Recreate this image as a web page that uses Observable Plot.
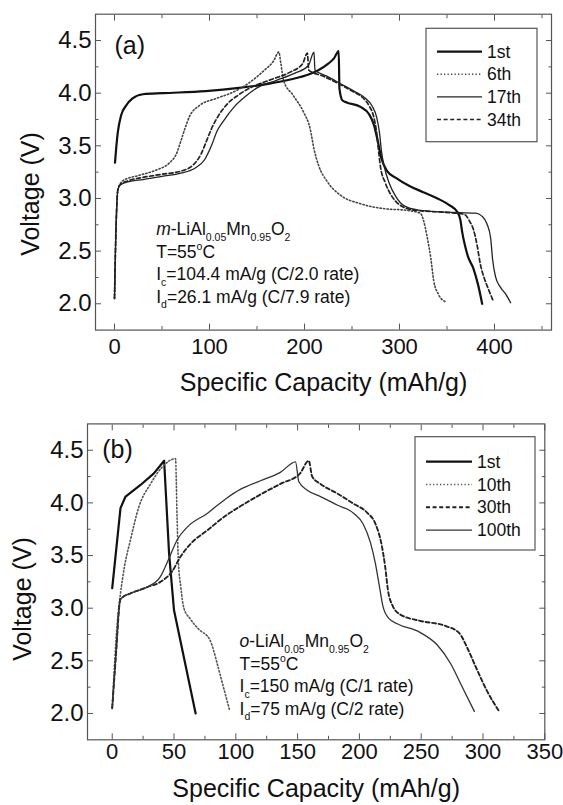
<!DOCTYPE html>
<html><head><meta charset="utf-8">
<script src="https://cdn.jsdelivr.net/npm/d3@7"></script>
<script src="https://cdn.jsdelivr.net/npm/@observablehq/plot@0.6"></script>
<style>body{margin:0;background:#fff;} #chart svg{display:block}</style>
</head><body><div id="chart"></div>
<script>
// ---------- Panel (a) data ----------
const namesA = ["1st", "6th", "17th", "34th"];
const a1st = [[0.5,3.34],[2,3.5],[3.5,3.63],[7,3.79],[12,3.88],[19,3.95],[30,3.99],[51,4.00],[96,4.02],[131,4.05],[163,4.09],[185,4.13],[205,4.18],[215,4.22],[225,4.28],[231,4.33],[236,4.40],[236.8,4.04],[240,3.93],[245,3.91],[259,3.87],[268,3.80],[273,3.70],[277,3.55],[281,3.38],[287,3.26],[297,3.19],[310,3.12],[325,3.06],[340,3.00],[352,2.94],[361,2.87],[364,2.80],[366,2.68],[369,2.55],[372,2.45],[378,2.33],[383,2.17],[387,2.00]];
const a6th = [[0,2.05],[1,2.5],[2.5,2.95],[3.5,3.08],[6,3.14],[9,3.17],[26,3.22],[44,3.27],[58,3.34],[65,3.42],[70,3.55],[74,3.66],[79,3.78],[89,3.88],[107,3.95],[125,4.01],[142,4.10],[158,4.22],[167,4.30],[173,4.39],[175,4.29],[178,4.12],[188,3.98],[199,3.82],[206,3.66],[210,3.47],[215,3.31],[224,3.16],[238,3.03],[259,2.95],[287,2.90],[305,2.89],[322,2.86],[325,2.80],[329,2.64],[333,2.43],[336,2.22],[341,2.09],[348,2.02]];
const a17th = [[0,2.05],[1,2.5],[2.5,2.95],[3.5,3.08],[6,3.13],[15,3.16],[30,3.18],[50,3.21],[70,3.24],[85,3.29],[95,3.37],[102,3.50],[108,3.64],[115,3.74],[126,3.87],[138,3.97],[150,4.05],[170,4.12],[190,4.19],[204,4.26],[210,4.39],[211,4.22],[224,4.16],[238,4.09],[252,4.02],[263,3.96],[271,3.88],[276,3.77],[279,3.62],[281,3.45],[284,3.30],[289,3.15],[296,3.02],[305,2.93],[320,2.89],[350,2.87],[380,2.86],[387,2.83],[392,2.76],[396,2.62],[398,2.42],[401,2.26],[406,2.16],[412,2.09],[417,2.01]];
const a34th = [[0,2.05],[1,2.5],[2.5,2.95],[3.5,3.08],[6,3.13],[15,3.17],[30,3.20],[50,3.23],[70,3.26],[83,3.32],[91,3.42],[97,3.55],[102,3.66],[109,3.78],[119,3.90],[130,3.98],[145,4.06],[165,4.13],[185,4.20],[198,4.28],[203,4.38],[204.5,4.22],[220,4.16],[236,4.09],[250,4.02],[261,3.96],[268,3.88],[273,3.77],[276,3.62],[278,3.45],[280,3.30],[285,3.15],[292,3.02],[300,2.94],[315,2.89],[345,2.87],[368,2.85],[374,2.78],[378,2.70],[382,2.54],[385,2.38],[389,2.25],[394,2.13],[399,2.02]];
const xTicksA = [0, 100, 200, 300, 400];
const xMinorA = [50, 150, 250, 350, 450];
const notesA = ["*m*-LiAl_{0.05}Mn_{0.95}O_{2}", "T=55^{o}C", "I_{c}=104.4 mA/g (C/2.0 rate)", "I_{d}=26.1 mA/g (C/7.9 rate)"];

// ---------- Panel (b) data ----------
const namesB = ["1st", "10th", "30th", "100th"];
const b1st = [[0,3.19],[6.7,3.95],[10.8,4.06],[22.9,4.17],[33.7,4.28],[42,4.40],[46,3.52],[50,2.98],[67.5,2.0]];
const b10th = [[0,2.05],[4,2.85],[6.7,3.14],[10,3.40],[14.8,3.65],[21.5,3.96],[31,4.18],[40.4,4.34],[51.2,4.42],[52.5,3.85],[53.5,3.45],[55.5,3.2],[58,3.0],[63,2.9],[70,2.8],[79,2.70],[82,2.6],[85,2.47],[90,2.25],[95,2.03]];
const b30th = [[0,2.05],[3,2.55],[6.5,3.08],[8,3.1],[14.8,3.14],[28.3,3.20],[39,3.25],[48.5,3.35],[55.3,3.49],[63.3,3.61],[77,3.74],[92,3.88],[104,3.97],[120,4.08],[136,4.18],[152,4.28],[159,4.40],[161.8,4.25],[168.5,4.18],[182,4.09],[195.5,3.99],[206,3.91],[213,3.80],[218,3.60],[221,3.38],[223,3.18],[227,3.02],[233,2.94],[249,2.88],[270,2.83],[281,2.76],[287,2.63],[295,2.42],[303,2.22],[313,2.02]];
const b100th = [[0,2.05],[3,2.55],[6.5,3.08],[8,3.1],[14.8,3.14],[28.3,3.20],[39,3.30],[45.8,3.47],[52.6,3.65],[60.7,3.77],[76.9,3.90],[92,4.04],[104,4.13],[120,4.21],[136,4.29],[148.3,4.39],[151,4.20],[157.8,4.12],[168.5,4.06],[182,3.98],[195.5,3.90],[203,3.80],[209,3.62],[213,3.42],[216,3.22],[219,3.02],[224,2.90],[231,2.85],[249,2.77],[263,2.65],[274,2.47],[282,2.28],[293,2.02]];
const xTicksB = [0, 50, 100, 150, 200, 250, 300, 350];
const xMinorB = [25, 75, 125, 175, 225, 275, 325];
const notesB = ["*o*-LiAl_{0.05}Mn_{0.95}O_{2}", "T=55^{o}C", "I_{c}=150 mA/g (C/1 rate)", "I_{d}=75 mA/g (C/2 rate)"];

const yTicks = [2.0, 2.5, 3.0, 3.5, 4.0, 4.5];
const yMinor = [2.25, 2.75, 3.25, 3.75, 4.25];
const xTitle = "Specific Capacity (mAh/g)";
const yTitle = "Voltage (V)";

// ---------- styles ----------
const stylesA = [
  {stroke: "#111", strokeWidth: 2.2},
  {stroke: "#444", strokeWidth: 1.6, strokeDasharray: "1.3 2.2"},
  {stroke: "#222", strokeWidth: 1.3},
  {stroke: "#222", strokeWidth: 1.7, strokeDasharray: "4 2.6"}
];
const stylesB = [
  {stroke: "#111", strokeWidth: 2.2},
  {stroke: "#555", strokeWidth: 1.6, strokeDasharray: "1.3 2.2"},
  {stroke: "#222", strokeWidth: 1.9, strokeDasharray: "4 2.6"},
  {stroke: "#333", strokeWidth: 1.3}
];

function richify(svg, fs) {
  svg.querySelectorAll("text").forEach(t => {
    const s = t.textContent;
    if (!/_\{|\^\{|\*/.test(s)) return;
    const parts = s.split(/(_\{[^}]*\}|\^\{[^}]*\}|\*[^*]+\*)/).filter(p => p);
    t.textContent = "";
    let shift = 0;
    parts.forEach(p => {
      const ts = document.createElementNS("http://www.w3.org/2000/svg", "tspan");
      let target = 0, txt = p, small = false, ital = false;
      if (p.startsWith("_{")) { target = 0.32 * fs; txt = p.slice(2, -1); small = true; }
      else if (p.startsWith("^{")) { target = -0.42 * fs; txt = p.slice(2, -1); small = true; }
      else if (p.startsWith("*")) { txt = p.slice(1, -1); ital = true; }
      ts.setAttribute("dy", target - shift); shift = target;
      if (small) ts.setAttribute("font-size", 0.6 * fs);
      if (ital) ts.setAttribute("font-style", "italic");
      ts.textContent = txt;
      t.appendChild(ts);
    });
  });
}

function panel(c) {
  const lines = c.series.map((d, i) => Plot.line(d, {x: p => p[0], y: p => p[1], curve: c.curves[i], ...c.styles[i]}));
  const notes = c.notes.map((t, i) => Plot.text([t], {frameAnchor: "top-left", textAnchor: "start", lineAnchor: "middle", dx: c.noteDx, dy: c.noteDy + i * 22.5, fontSize: 17.5, fill: "#111"}));
  const tickStroke = "#555";
  const svg = Plot.plot({
    width: 563, height: c.height,
    marginLeft: c.m[3], marginRight: c.m[1], marginTop: c.m[0], marginBottom: c.m[2],
    style: {fontFamily: "'Liberation Sans', Arial, sans-serif", color: "#111", background: "#fff", overflow: "visible"},
    x: {domain: c.xDomain, label: null},
    y: {domain: [1.75, 4.75], label: null},
    marks: [
      Plot.frame({stroke: tickStroke, strokeWidth: 1.2}),
      Plot.axisX(c.xTicks, {anchor: "bottom", tickSize: 0, tickPadding: c.xPad, fontSize: 22, tickFormat: d => String(d), label: null}),
      Plot.axisX(c.xTicks, {anchor: "bottom", tickSize: -6, fill: "none", stroke: tickStroke, label: null}),
      Plot.axisX(c.xMinor, {anchor: "bottom", tickSize: -3.5, fill: "none", stroke: tickStroke, label: null}),
      Plot.axisX(c.xTicks, {anchor: "top", tickSize: -6, fill: "none", stroke: tickStroke, label: null}),
      Plot.axisX(c.xMinor, {anchor: "top", tickSize: -3.5, fill: "none", stroke: tickStroke, label: null}),
      Plot.axisY(yTicks, {anchor: "left", tickSize: 0, tickPadding: 4, fontSize: 24, tickFormat: d3.format(".1f"), label: null}),
      Plot.axisY(yTicks, {anchor: "left", tickSize: -6, fill: "none", stroke: tickStroke, label: null}),
      Plot.axisY(yMinor, {anchor: "left", tickSize: -3.5, fill: "none", stroke: tickStroke, label: null}),
      Plot.axisY(yTicks, {anchor: "right", tickSize: -6, fill: "none", stroke: tickStroke, label: null}),
      Plot.axisY(yMinor, {anchor: "right", tickSize: -3.5, fill: "none", stroke: tickStroke, label: null}),
      ...lines,
      Plot.text([c.tag], {frameAnchor: "top-left", textAnchor: "start", lineAnchor: "middle", dx: c.tagDx, dy: c.tagDy, fontSize: 25, fill: "#111"}),
      ...notes,
      Plot.text([xTitle], {frameAnchor: "bottom", textAnchor: "middle", lineAnchor: "middle", dy: c.xTitleDy, fontSize: 25, fill: "#111"})
    ]
  });
  const root = d3.select(svg);
  // y-axis title, placed beside the frame
  root.append("text")
    .attr("transform", `translate(${c.yTitle[0]},${c.yTitle[1]}) rotate(-90)`)
    .attr("text-anchor", "middle").attr("dy", "0.35em")
    .attr("font-size", 25).attr("fill", "#111").text(yTitle);
  // legend
  const L = c.legend;
  const g = root.append("g").attr("text-anchor", "start");
  g.append("rect").attr("x", L.x).attr("y", L.y).attr("width", L.w).attr("height", L.h)
    .attr("fill", "#fff").attr("stroke", "#555").attr("stroke-width", 1.2);
  c.names.forEach((n, i) => {
    const y = L.y0 + i * L.dy, s = c.styles[i];
    g.append("line").attr("x1", L.lx1).attr("x2", L.lx2).attr("y1", y).attr("y2", y)
      .attr("stroke", s.stroke).attr("stroke-width", s.strokeWidth).attr("stroke-dasharray", s.strokeDasharray || null);
    g.append("text").attr("x", L.tx).attr("y", y).attr("dy", "0.35em").attr("text-anchor", "start")
      .attr("font-size", 17.5).attr("fill", "#111").text(n);
  });
  richify(svg, 17.5);
  return svg;
}

const chart = document.getElementById("chart");
chart.appendChild(panel({
  height: 400, m: [13.7, 12, 70.4, 95], xDomain: [-20, 460],
  series: [a1st, a6th, a17th, a34th], names: namesA, styles: stylesA,
  curves: ["monotone-x", "monotone-x", "monotone-x", "monotone-x"],
  xTicks: xTicksA, xMinor: xMinorA, xPad: 8,
  notes: notesA, noteDx: 60.7, noteDy: 215.3,
  tag: "(a)", tagDx: 19, tagDy: 31.3,
  xTitleDy: 52.4, yTitle: [30.6, 194],
  legend: {x: 426, y: 28.3, w: 111, h: 113.4, y0: 51.7, dy: 22.6, lx1: 437, lx2: 482, tx: 487}
}));
chart.appendChild(panel({
  height: 405, m: [23.4, 18.7, 65.7, 87], xDomain: [-20, 350],
  series: [b1st, b10th, b30th, b100th], names: namesB, styles: stylesB,
  curves: ["linear", "monotone-x", "monotone-x", "monotone-x"],
  xTicks: xTicksB, xMinor: xMinorB, xPad: 4,
  notes: notesB, noteDx: 152, noteDy: 217.6,
  tag: "(b)", tagDx: 14.7, tagDy: 25.6,
  xTitleDy: 48.7, yTitle: [22, 199],
  legend: {x: 415, y: 36.7, w: 120, h: 113.3, y0: 61.7, dy: 22.8, lx1: 426, lx2: 472, tx: 477}
}));
</script></body></html>
